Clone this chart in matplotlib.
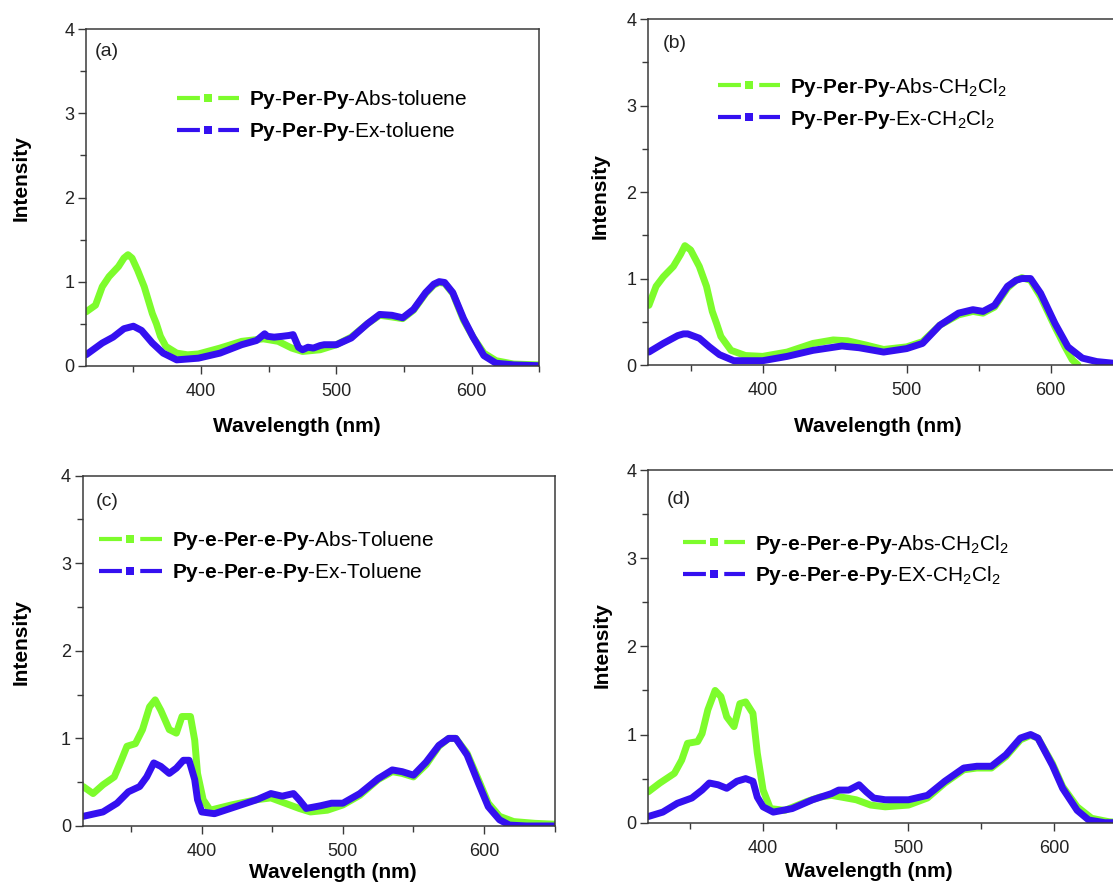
import matplotlib
matplotlib.use('Agg')
import matplotlib.pyplot as plt
from matplotlib.lines import Line2D
from matplotlib.ticker import MultipleLocator

plt.rcParams['font.family'] = ['Liberation Sans', 'DejaVu Sans']
plt.rcParams['mathtext.fontset'] = 'custom'
plt.rcParams['mathtext.rm'] = 'Liberation Sans'
plt.rcParams['mathtext.bf'] = 'Liberation Sans:bold'
plt.rcParams['mathtext.it'] = 'Liberation Sans:italic'
plt.rcParams['mathtext.default'] = 'regular'

green = '#7dfc2c'
blue = '#3410f0'
axis_grey = '#3a3a3a'

# (a) Py-Per-Py in toluene
wl_a_abs = [315, 322, 327, 332, 339, 343, 346, 349, 353, 358, 364, 367, 370, 374, 382, 390, 398, 414, 430, 446,
            457, 467, 475, 488, 500, 511, 523, 532, 541, 549, 557, 566, 572, 576, 580, 586, 594, 601, 609, 618,
            631, 650]
int_a_abs = [0.64, 0.72, 0.94, 1.06, 1.18, 1.28, 1.32, 1.28, 1.14, 0.94, 0.62, 0.50, 0.35, 0.23, 0.15, 0.13, 0.14,
             0.21, 0.29, 0.32, 0.29, 0.21, 0.17, 0.19, 0.25, 0.34, 0.50, 0.60, 0.58, 0.56, 0.66, 0.86, 0.96, 0.99,
             0.98, 0.86, 0.54, 0.34, 0.15, 0.06, 0.02, 0.01]
wl_a_ex = [315, 327, 335, 343, 350, 356, 364, 372, 382, 398, 414, 430, 441, 447, 449, 454, 460, 465, 468, 472, 475,
           479, 483, 488, 491, 500, 511, 523, 532, 541, 549, 557, 566, 572, 576, 580, 586, 594, 601, 609, 618, 631,
           650]
int_a_ex = [0.13, 0.27, 0.34, 0.44, 0.47, 0.42, 0.27, 0.15, 0.07, 0.09, 0.15, 0.25, 0.30, 0.38, 0.35, 0.34, 0.35,
            0.36, 0.37, 0.22, 0.19, 0.22, 0.21, 0.24, 0.25, 0.25, 0.33, 0.50, 0.61, 0.60, 0.57, 0.67, 0.87, 0.97,
            1.0, 0.99, 0.87, 0.56, 0.34, 0.12, 0.03, 0.01, 0.0]

# (b) Py-Per-Py in CH2Cl2
wl_b_abs = [321, 326, 331, 338, 343, 346, 350, 356, 361, 365, 368, 371, 378, 388, 400, 417, 435, 449, 459, 472,
            484, 500, 511, 523, 536, 546, 553, 561, 570, 576, 580, 586, 593, 603, 610, 615, 619]
int_b_abs = [0.69, 0.91, 1.02, 1.14, 1.28, 1.38, 1.33, 1.14, 0.91, 0.62, 0.48, 0.33, 0.17, 0.11, 0.10, 0.15, 0.25,
             0.29, 0.28, 0.23, 0.18, 0.21, 0.27, 0.46, 0.58, 0.62, 0.60, 0.67, 0.89, 0.98, 1.01, 0.98, 0.79, 0.44,
             0.21, 0.06, 0.0]
wl_b_ex = [321, 331, 341, 345, 348, 356, 363, 370, 380, 400, 417, 435, 455, 467, 484, 500, 511, 523, 536, 546, 553,
           561, 570, 576, 580, 586, 593, 603, 612, 622, 632, 644, 660, 680]
int_b_ex = [0.15, 0.25, 0.34, 0.36, 0.36, 0.31, 0.21, 0.12, 0.05, 0.05, 0.10, 0.17, 0.22, 0.20, 0.15, 0.19, 0.25,
            0.46, 0.60, 0.64, 0.62, 0.69, 0.91, 0.98, 1.0, 1.0, 0.83, 0.48, 0.21, 0.08, 0.04, 0.02, 0.01, 0.01]

# (c) Py-e-Per-e-Py in toluene
wl_c_abs = [316, 323, 330, 338, 343, 347, 353, 358, 363, 367, 371, 377, 382, 386, 392, 395, 397, 401, 406, 421,
            439, 449, 459, 469, 477, 489, 500, 512, 525, 535, 542, 550, 559, 568, 575, 580, 588, 596, 603, 611,
            621, 636, 650]
int_c_abs = [0.45, 0.37, 0.47, 0.56, 0.75, 0.91, 0.94, 1.10, 1.36, 1.44, 1.32, 1.10, 1.06, 1.25, 1.25, 0.98, 0.60,
             0.30, 0.18, 0.24, 0.30, 0.32, 0.26, 0.20, 0.16, 0.18, 0.24, 0.35, 0.53, 0.62, 0.60, 0.56, 0.70, 0.91,
             1.0, 1.0, 0.83, 0.53, 0.26, 0.11, 0.05, 0.03, 0.02]
wl_c_ex = [316, 330, 340, 348, 356, 361, 366, 371, 377, 382, 387, 391, 395, 397, 400, 409, 424, 439, 449, 457, 465,
           469, 474, 484, 492, 500, 512, 525, 535, 542, 550, 559, 568, 575, 580, 588, 596, 603, 611, 618, 630, 650]
int_c_ex = [0.11, 0.16, 0.26, 0.39, 0.45, 0.56, 0.72, 0.68, 0.60, 0.66, 0.75, 0.75, 0.53, 0.30, 0.16, 0.14, 0.22,
            0.30, 0.37, 0.34, 0.37, 0.30, 0.20, 0.23, 0.26, 0.26, 0.37, 0.54, 0.64, 0.62, 0.58, 0.73, 0.92, 1.0,
            1.0, 0.81, 0.49, 0.22, 0.07, 0.01, 0.0, 0.0]

# (d) Py-e-Per-e-Py in CH2Cl2
wl_d_abs = [321, 329, 339, 344, 348, 355, 358, 362, 367, 371, 375, 380, 384, 388, 393, 396, 400, 405, 415, 430,
            439, 447, 454, 464, 474, 484, 500, 513, 525, 538, 547, 557, 567, 577, 584, 589, 599, 606, 616, 626,
            638, 650]
int_d_abs = [0.35, 0.45, 0.56, 0.71, 0.90, 0.92, 1.01, 1.28, 1.50, 1.43, 1.20, 1.09, 1.35, 1.37, 1.24, 0.79, 0.37,
             0.16, 0.14, 0.24, 0.29, 0.31, 0.29, 0.26, 0.20, 0.18, 0.20, 0.28, 0.45, 0.60, 0.62, 0.62, 0.75, 0.94,
             0.99, 0.96, 0.67, 0.41, 0.18, 0.05, 0.01, 0.0]
wl_d_ex = [321, 331, 341, 351, 358, 363, 369, 375, 382, 388, 393, 396, 400, 407, 420, 434, 447, 452, 459, 466, 471,
           476, 484, 500, 513, 525, 538, 547, 557, 567, 577, 584, 589, 599, 606, 616, 624, 635, 650]
int_d_ex = [0.07, 0.12, 0.22, 0.28, 0.37, 0.45, 0.43, 0.39, 0.47, 0.50, 0.47, 0.29, 0.18, 0.12, 0.16, 0.26, 0.33,
            0.37, 0.37, 0.43, 0.35, 0.28, 0.26, 0.26, 0.31, 0.47, 0.62, 0.64, 0.64, 0.77, 0.96, 1.0, 0.96, 0.65,
            0.39, 0.14, 0.03, 0.0, 0.0]

labels_a = [r'$\mathbf{Py}$-$\mathbf{Per}$-$\mathbf{Py}$-Abs-toluene',
            r'$\mathbf{Py}$-$\mathbf{Per}$-$\mathbf{Py}$-Ex-toluene']
labels_b = [r'$\mathbf{Py}$-$\mathbf{Per}$-$\mathbf{Py}$-Abs-CH$_2$Cl$_2$',
            r'$\mathbf{Py}$-$\mathbf{Per}$-$\mathbf{Py}$-Ex-CH$_2$Cl$_2$']
labels_c = [r'$\mathbf{Py}$-$\mathbf{e}$-$\mathbf{Per}$-$\mathbf{e}$-$\mathbf{Py}$-Abs-Toluene',
            r'$\mathbf{Py}$-$\mathbf{e}$-$\mathbf{Per}$-$\mathbf{e}$-$\mathbf{Py}$-Ex-Toluene']
labels_d = [r'$\mathbf{Py}$-$\mathbf{e}$-$\mathbf{Per}$-$\mathbf{e}$-$\mathbf{Py}$-Abs-CH$_2$Cl$_2$',
            r'$\mathbf{Py}$-$\mathbf{e}$-$\mathbf{Per}$-$\mathbf{e}$-$\mathbf{Py}$-EX-CH$_2$Cl$_2$']


def legend_handle(color):
    return Line2D([], [], color=color, lw=3.0, dashes=(5.5, 4.4), marker='s', markersize=6.3,
                  markeredgewidth=0, markerfacecolor=color)


def draw_panel(fig, rect, xlim, tag, data, labels, leg_pos, tag_pos, xlabel_y, ylabel_pos, xlabel_x, box=True):
    ax = fig.add_axes(rect)
    wl_abs, i_abs, wl_ex, i_ex = data
    ax.plot(wl_abs, i_abs, color=green, lw=5.0, solid_joinstyle='round', solid_capstyle='round')
    ax.plot(wl_ex, i_ex, color=blue, lw=5.0, solid_joinstyle='round', solid_capstyle='round')
    ax.set_xlim(*xlim)
    ax.set_ylim(0, 4)
    ax.xaxis.set_major_locator(MultipleLocator(100))
    ax.xaxis.set_minor_locator(MultipleLocator(50))
    ax.yaxis.set_major_locator(MultipleLocator(1))
    ax.yaxis.set_minor_locator(MultipleLocator(0.5))
    ax.tick_params(which='both', direction='out', color=axis_grey, width=1.0, labelsize=13,
                   labelcolor='#222222')
    ax.tick_params(which='major', length=5.5)
    ax.tick_params(which='minor', length=4.3)
    ax.tick_params(axis='x', pad=7)
    ax.tick_params(axis='y', pad=3)
    for side, sp in ax.spines.items():
        sp.set_color(axis_grey)
        sp.set_linewidth(1.1)
    if not box:
        ax.spines['right'].set_visible(False)

    ax.set_xlabel('Wavelength (nm)', fontsize=15, fontweight='bold', va='center')
    ax.xaxis.set_label_coords(xlabel_x, xlabel_y)
    ax.set_ylabel('Intensity', fontsize=15, fontweight='bold', va='center')
    ax.yaxis.set_label_coords(ylabel_pos[0], ylabel_pos[1])

    ax.text(tag_pos[0], tag_pos[1], tag, transform=ax.transAxes, fontsize=14, va='center', ha='left',
            color='#222222')

    handles = [legend_handle(green), legend_handle(blue)]
    ax.legend(handles, labels, loc='center left', bbox_to_anchor=leg_pos, frameon=False, fontsize=15,
              handlelength=2.98, handletextpad=0.48, borderpad=0, borderaxespad=0, labelspacing=0.42,
              numpoints=1)
    return ax


fig = plt.figure(figsize=(11.13, 8.83), dpi=100)

draw_panel(fig, [0.0773, 0.5858, 0.4073, 0.3810], (315, 650), '(a)',
           (wl_a_abs, int_a_abs, wl_a_ex, int_a_ex), labels_a,
           (0.20, 0.743), (0.019, 0.933), -0.181, (-0.1425, 0.559), 0.466)
draw_panel(fig, [0.5825, 0.5866, 0.4262, 0.3918], (320.6, 650), '(b)',
           (wl_b_abs, int_b_abs, wl_b_ex, int_b_ex), labels_b,
           (0.146, 0.757), (0.030, 0.930), -0.178, (-0.1006, 0.489), 0.484, box=False)
draw_panel(fig, [0.0745, 0.0646, 0.4238, 0.3967], (315.8, 650), '(c)',
           (wl_c_abs, int_c_abs, wl_c_ex, int_c_ex), labels_c,
           (0.035, 0.769), (0.027, 0.926), -0.134, (-0.1304, 0.526), 0.530)
draw_panel(fig, [0.5823, 0.0683, 0.4299, 0.3994], (320.9, 650), '(d)',
           (wl_d_abs, int_d_abs, wl_d_ex, int_d_ex), labels_d,
           (0.0725, 0.745), (0.039, 0.917), -0.139, (-0.0955, 0.504), 0.462, box=False)

fig.savefig('out.png', dpi=100)
